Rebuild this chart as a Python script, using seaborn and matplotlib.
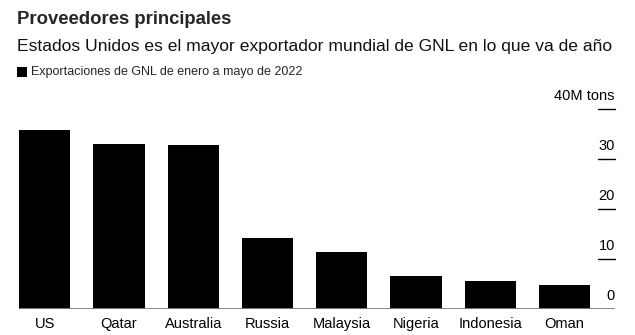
import matplotlib
matplotlib.use("Agg")
import matplotlib.pyplot as plt
import matplotlib.transforms as mtransforms
from matplotlib.patches import Rectangle
import seaborn as sns
import pandas as pd

countries = ["US", "Qatar", "Australia", "Russia", "Malaysia", "Nigeria", "Indonesia", "Oman"]
exports = [35.8, 33.0, 32.8, 14.2, 11.4, 6.6, 5.6, 4.8]
yticks = [0, 10, 20, 30, 40]
ytick_labels = ["0", "10", "20", "30", "40M tons"]

title = "Proveedores principales"
subtitle = "Estados Unidos es el mayor exportador mundial de GNL en lo que va de año"
legend_label = "Exportaciones de GNL de enero a mayo de 2022"

sns.set_theme(style="white")
plt.rcParams["font.family"] = ["Liberation Sans", "DejaVu Sans"]

df = pd.DataFrame({"country": countries, "exports": exports})

fig = plt.figure(figsize=(6.35, 3.35), dpi=100)
ax = fig.add_axes([19/635, 26/335, 596/635, 200/335])

sns.barplot(data=df, x="country", y="exports", color="black", width=0.69,
            saturation=1, ax=ax, edgecolor="none")

ax.set_xlim(-0.345, 7.68)
ax.set_ylim(0, 40)
for s in ax.spines.values():
    s.set_visible(False)
ax.axhline(0, color="#7f7f7f", lw=2, zorder=5)
ax.set_yticks([])
ax.set_xlabel("")
ax.set_ylabel("")
ax.tick_params(axis="x", length=0, pad=6, labelsize=10.5, labelcolor="black")

trans = mtransforms.blended_transform_factory(ax.transAxes, ax.transData)
for v, lab in zip(yticks, ytick_labels):
    if v > 0:
        ax.plot([0.972, 1.0], [v, v], color="black", lw=1, transform=trans, clip_on=False)
    ax.text(1.0, v + 1.3, lab, transform=trans, ha="right", va="bottom",
            fontsize=10.5, color="black")

fig.text(17/635, 1 - 20/335, title, fontsize=13.3, fontweight="bold", va="center", ha="left")
fig.text(17/635, 1 - 46/335, subtitle, fontsize=12.6, va="center", ha="left", color="#111111")
fig.patches.append(Rectangle((17/635, 1 - 77/335), 10/635, 10/335, transform=fig.transFigure,
                             facecolor="black", edgecolor="none"))
fig.text(31/635, 1 - 72/335, legend_label, fontsize=9.0, va="center", ha="left")

fig.savefig("out.png", dpi=100)
